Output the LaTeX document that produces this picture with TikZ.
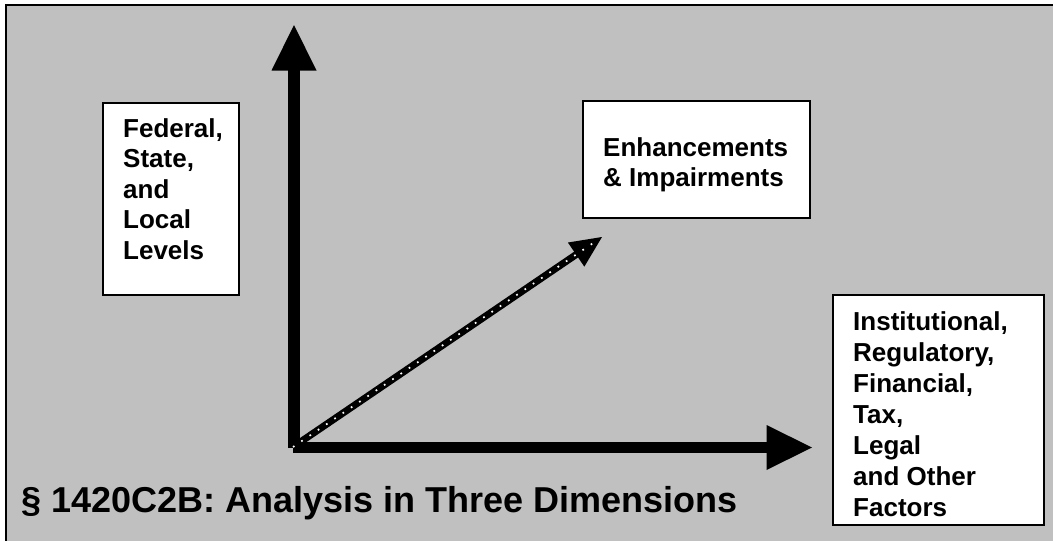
\documentclass[tikz,border=0pt]{standalone}
\usepackage{fontspec}
\setmainfont{Liberation Sans}
\usetikzlibrary{calc}
\definecolor{bggray}{HTML}{C0C0C0}
\begin{document}
\begin{tikzpicture}[x=1pt,y=-1pt,
  box/.style={draw=black,line width=1.6pt,fill=white,inner sep=0pt,anchor=north west},
  lbl/.style={font=\fontsize{26}{30.5}\selectfont\bfseries,align=left,inner sep=0pt,anchor=north west},
  axisline/.style={line width=11.5pt,line cap=butt},
  diagline/.style={line width=7pt,line cap=butt},
  dotline/.style={white,line width=1.7pt,dash pattern=on 1.7pt off 8.3pt,line cap=butt}]
\useasboundingbox (0,0) rectangle (1053,541);
\fill[white] (0,0) rectangle (1053,541);
\fill[bggray] (6,5) rectangle (1053,541);
\draw[line width=2pt] (6,541) -- (6,5) -- (1053,5);

% boxes
\node[box,minimum width=136pt,minimum height=192pt] (fedbox) at (102,102) {};
\node[lbl] (fedtxt) at (123,118) {Federal,\\State,\\and\\Local\\Levels};

\node[box,minimum width=227pt,minimum height=117pt] (enhbox) at (582,100) {};
\node[lbl,font=\fontsize{26}{30}\selectfont\bfseries] (enhtxt) at (603,137) {Enhancements\\\& Impairments};

\node[box,minimum width=211pt,minimum height=230pt] (instbox) at (832,294) {};
\node[lbl,font=\fontsize{26}{31}\selectfont\bfseries] (insttxt) at (853,311) {Institutional,\\Regulatory,\\Financial,\\Tax,\\Legal\\and Other\\Factors};

% title
\node[font=\fontsize{36}{40}\selectfont\bfseries,anchor=base west,inner sep=0pt] (title) at (21,512) {§ 1420C2B: Analysis in Three Dimensions};

% axes
\coordinate (Vbot) at (294,448);
\coordinate (Ybase) at (294,70);
\coordinate (Ytop) at (294,25);
\coordinate (Hstart) at (293.3,447.5);
\coordinate (Xbase) at (767,447.5);
\coordinate (Xend) at (812,447.5);
\draw[axisline] (Vbot) -- (Ybase);
\fill (Ytop) -- (271.5,70.5) -- (316.5,70.5) -- cycle;
\draw[axisline] (Hstart) -- (Xbase);
\fill (Xend) -- (766.5,425) -- (766.5,470) -- cycle;

% diagonal arrow
\coordinate (Dstart) at (293,447);
\coordinate (Dtip) at (602,237);
\coordinate (Dbase) at ($(Dtip)!31.3pt!(Dstart)$);
\coordinate (Dshaft) at ($(Dtip)!26pt!(Dstart)$);
\draw[diagline] (Dstart) -- (Dshaft);
\fill ($(Dbase)!14.6pt!90:(Dtip)$) -- (Dtip) -- ($(Dbase)!14.6pt!-90:(Dtip)$) -- cycle;
\draw[dotline] (Dstart) -- ($(Dtip)!9pt!(Dstart)$);
\end{tikzpicture}
\end{document}
